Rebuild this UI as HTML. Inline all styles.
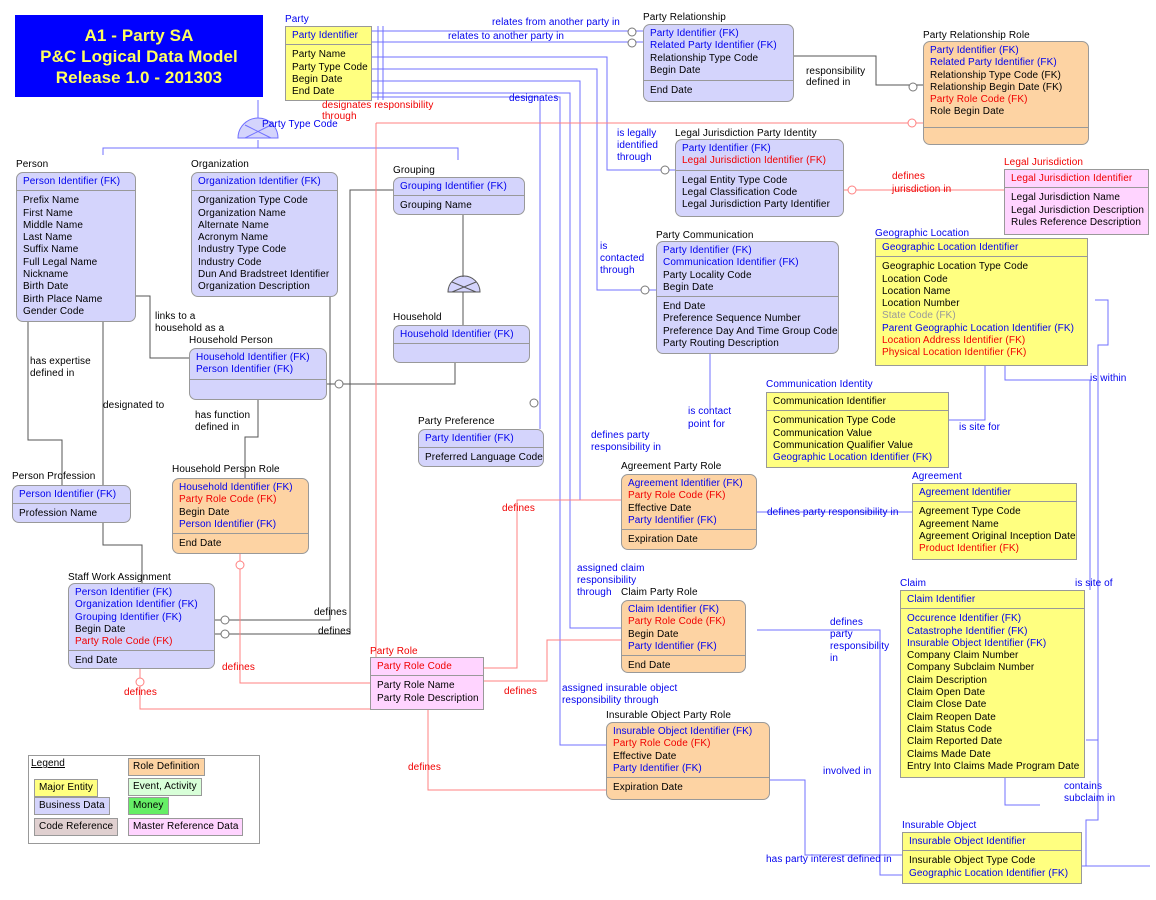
<!DOCTYPE html>
<html><head><meta charset="utf-8"><style>
body{margin:0;background:#fff;width:1156px;height:900px;position:relative;overflow:hidden;font-family:"Liberation Sans",sans-serif;font-size:10px;color:#000;letter-spacing:0.1px}
.e{position:absolute;border:1px solid #999;box-sizing:border-box}
.r{border-radius:7px}
.k{border-bottom:1px solid #999;padding:3px 6px 2px}
.a{padding:4px 6px}
.e div div{line-height:12.3px;white-space:nowrap}
.t{position:absolute;white-space:nowrap;line-height:11px}
.y{background:#ffff80}.l{background:#d4d4fc}.o{background:#fdd3a3}.p{background:#ffd4ff}
.b{color:#0000ee}.d{color:#f00000}
svg{position:absolute;left:0;top:0}
.lg{position:absolute;border:1px solid #999;padding:1px 4px;line-height:14px;white-space:nowrap}
</style></head><body>
<svg width="1156" height="900" fill="none" stroke-width="1">
<g stroke="#7070ff">
<path d="M372 31H643M372 42H643M378 26V100M383 26V100"/>
<path d="M372 57H607V170H675"/>
<path d="M372 69H597V290H656"/>
<path d="M372 81H580V500H621"/>
<path d="M372 93H570V628H621"/>
<path d="M372 97H540V429"/>
<path d="M555 97H560V745H606"/>
<path d="M258 100V123"/>
<path d="M103 155V148H458V160M258 148V140"/>
<path d="M710 354V410"/>
<path d="M985 366V420H949M1005 366V380H1090V590"/>
<path d="M1095 300H1108V345H1098V820H1086V866M1082 866H1150"/>
<path d="M757 630H880V875H902M757 512H912"/>
<path d="M770 780H805V855H902M1005 778V805H1040"/>
<path d="M1086 740H1098"/>
</g>
<path d="M238 138A20 20 0 0 1 278 138Z" fill="#d4d4fc" stroke="#7070ff"/>
<path d="M245 125L271 138M271 125L245 138" stroke="#7070ff"/>
<path d="M448 292A16 16 0 0 1 480 292Z" fill="#d4d4fc" stroke="#555"/>
<path d="M452 282L476 292M476 282L452 292" stroke="#555"/>
<g stroke="#555">
<path d="M794 56H876V85H923"/>
<path d="M463 215V277M463 292V325"/>
<path d="M136 296H150V358H189"/>
<path d="M327 384H455V363"/>
<path d="M258 400V437H245V478"/>
<path d="M28 322V440H62V485"/>
<path d="M103 322V545H142V583"/>
<path d="M330 297V620H215M393 190H350V634H215"/>
</g>
<g stroke="#ff8080">
<path d="M376 123H923M376 123V657"/>
<path d="M757 190H1004"/>
<path d="M240 554V683H370M140 669V709H370"/>
<path d="M484 668H517V500H621M484 681H547V640H621"/>
<path d="M428 710V790H606M428 790H600"/>
</g>
<g stroke="#777" fill="#fff"><circle cx="632" cy="32" r="4"/><circle cx="632" cy="43" r="4"/><circle cx="913" cy="87" r="4"/><circle cx="665" cy="170" r="4"/><circle cx="645" cy="290" r="4"/><circle cx="339" cy="384" r="4"/><circle cx="225" cy="620" r="4"/><circle cx="225" cy="634" r="4"/><circle cx="534" cy="403" r="4"/></g>
<g stroke="#ff8080" fill="#fff"><circle cx="912" cy="123" r="4"/><circle cx="852" cy="190" r="4"/><circle cx="240" cy="565" r="4"/><circle cx="140" cy="682" r="4"/></g>
</svg>
<div class="t" style="left:15px;top:15px;width:248px;height:82px;background:#0000ff;color:#ffff60;font-weight:bold;font-size:17px;line-height:21px;text-align:center;padding-top:10px;box-sizing:border-box">A1 - Party SA<br>P&amp;C Logical Data Model<br>Release 1.0 - 201303</div>

<div class="t b" style="left:285px;top:14px">Party</div>
<div class="e y" style="left:285px;top:26px;width:87px;height:75px"><div class="k b"><div>Party Identifier</div></div><div class="a"><div>Party Name</div><div>Party Type Code</div><div>Begin Date</div><div>End Date</div></div></div>

<div class="t" style="left:643px;top:12px">Party Relationship</div>
<div class="e l r" style="left:643px;top:24px;width:151px;height:78px"><div class="k" style="padding-bottom:3px"><div class="b">Party Identifier (FK)</div><div class="b">Related Party Identifier (FK)</div><div>Relationship Type Code</div><div>Begin Date</div></div><div class="a"><div>End Date</div></div></div>

<div class="t" style="left:923px;top:30px">Party Relationship Role</div>
<div class="e o r" style="left:923px;top:41px;width:166px;height:104px"><div class="k" style="height:80px"><div class="b">Party Identifier (FK)</div><div class="b">Related Party Identifier (FK)</div><div>Relationship Type Code (FK)</div><div>Relationship Begin Date (FK)</div><div class="d">Party Role Code (FK)</div><div>Role Begin Date</div></div></div>

<div class="t" style="left:675px;top:128px">Legal Jurisdiction Party Identity</div>
<div class="e l r" style="left:675px;top:139px;width:169px;height:78px"><div class="k"><div class="b">Party Identifier (FK)</div><div class="d">Legal Jurisdiction Identifier (FK)</div></div><div class="a"><div>Legal Entity Type Code</div><div>Legal Classification Code</div><div>Legal Jurisdiction Party Identifier</div></div></div>

<div class="t d" style="left:1004px;top:157px">Legal Jurisdiction</div>
<div class="e p" style="left:1004px;top:169px;width:145px;height:66px;overflow:hidden"><div class="k d"><div>Legal Jurisdiction Identifier</div></div><div class="a"><div>Legal Jurisdiction Name</div><div>Legal Jurisdiction Description</div><div>Rules Reference Description</div></div></div>

<div class="t b" style="left:875px;top:228px">Geographic Location</div>
<div class="e y" style="left:875px;top:238px;width:213px;height:128px"><div class="k b"><div>Geographic Location Identifier</div></div><div class="a"><div>Geographic Location Type Code</div><div>Location Code</div><div>Location Name</div><div>Location Number</div><div style="color:#999">State Code (FK)</div><div class="b">Parent Geographic Location Identifier (FK)</div><div class="d">Location Address Identifier (FK)</div><div class="d">Physical Location Identifier (FK)</div></div></div>

<div class="t" style="left:656px;top:230px">Party Communication</div>
<div class="e l r" style="left:656px;top:241px;width:183px;height:113px"><div class="k"><div class="b">Party Identifier (FK)</div><div class="b">Communication Identifier (FK)</div><div>Party Locality Code</div><div>Begin Date</div></div><div class="a"><div>End Date</div><div>Preference Sequence Number</div><div>Preference Day And Time Group Code</div><div>Party Routing Description</div></div></div>

<div class="t b" style="left:766px;top:379px">Communication Identity</div>
<div class="e y" style="left:766px;top:392px;width:183px;height:76px"><div class="k"><div>Communication Identifier</div></div><div class="a"><div>Communication Type Code</div><div>Communication Value</div><div>Communication Qualifier Value</div><div class="b">Geographic Location Identifier (FK)</div></div></div>

<div class="t b" style="left:912px;top:471px">Agreement</div>
<div class="e y" style="left:912px;top:483px;width:165px;height:77px;overflow:hidden"><div class="k b"><div>Agreement Identifier</div></div><div class="a"><div>Agreement Type Code</div><div>Agreement Name</div><div>Agreement Original Inception Date</div><div class="d">Product Identifier (FK)</div></div></div>

<div class="t b" style="left:900px;top:578px">Claim</div>
<div class="e y" style="left:900px;top:590px;width:185px;height:188px"><div class="k b"><div>Claim Identifier</div></div><div class="a"><div class="b">Occurence Identifier (FK)</div><div class="b">Catastrophe Identifier (FK)</div><div class="b">Insurable Object Identifier (FK)</div><div>Company Claim Number</div><div>Company Subclaim Number</div><div>Claim Description</div><div>Claim Open Date</div><div>Claim Close Date</div><div>Claim Reopen Date</div><div>Claim Status Code</div><div>Claim Reported Date</div><div>Claims Made Date</div><div>Entry Into Claims Made Program Date</div></div></div>

<div class="t b" style="left:902px;top:820px">Insurable Object</div>
<div class="e y" style="left:902px;top:832px;width:180px;height:52px"><div class="k b"><div>Insurable Object Identifier</div></div><div class="a"><div>Insurable Object Type Code</div><div class="b">Geographic Location Identifier (FK)</div></div></div>

<div class="t" style="left:606px;top:710px">Insurable Object Party Role</div>
<div class="e o r" style="left:606px;top:722px;width:164px;height:78px"><div class="k"><div class="b">Insurable Object Identifier (FK)</div><div class="d">Party Role Code (FK)</div><div>Effective Date</div><div class="b">Party Identifier (FK)</div></div><div class="a"><div>Expiration Date</div></div></div>

<div class="t" style="left:621px;top:587px">Claim Party Role</div>
<div class="e o r" style="left:621px;top:600px;width:125px;height:73px"><div class="k"><div class="b">Claim Identifier (FK)</div><div class="d">Party Role Code (FK)</div><div>Begin Date</div><div class="b">Party Identifier (FK)</div></div><div class="a"><div>End Date</div></div></div>

<div class="t" style="left:621px;top:461px">Agreement Party Role</div>
<div class="e o r" style="left:621px;top:474px;width:136px;height:76px"><div class="k"><div class="b">Agreement Identifier (FK)</div><div class="d">Party Role Code (FK)</div><div>Effective Date</div><div class="b">Party Identifier (FK)</div></div><div class="a"><div>Expiration Date</div></div></div>

<div class="t d" style="left:370px;top:646px">Party Role</div>
<div class="e p" style="left:370px;top:657px;width:114px;height:53px"><div class="k d"><div>Party Role Code</div></div><div class="a"><div>Party Role Name</div><div>Party Role Description</div></div></div>

<div class="t" style="left:68px;top:572px">Staff Work Assignment</div>
<div class="e l r" style="left:68px;top:583px;width:147px;height:86px"><div class="k"><div class="b">Person Identifier (FK)</div><div class="b">Organization Identifier (FK)</div><div class="b">Grouping Identifier (FK)</div><div>Begin Date</div><div class="d">Party Role Code (FK)</div></div><div class="a"><div>End Date</div></div></div>

<div class="t" style="left:172px;top:464px">Household Person Role</div>
<div class="e o r" style="left:172px;top:478px;width:137px;height:76px"><div class="k"><div class="b">Household Identifier (FK)</div><div class="d">Party Role Code (FK)</div><div>Begin Date</div><div class="b">Person Identifier (FK)</div></div><div class="a"><div>End Date</div></div></div>

<div class="t" style="left:12px;top:471px">Person Profession</div>
<div class="e l r" style="left:12px;top:485px;width:119px;height:38px"><div class="k b"><div>Person Identifier (FK)</div></div><div class="a"><div>Profession Name</div></div></div>

<div class="t" style="left:16px;top:159px">Person</div>
<div class="e l r" style="left:16px;top:172px;width:120px;height:150px"><div class="k b"><div>Person Identifier (FK)</div></div><div class="a"><div>Prefix Name</div><div>First Name</div><div>Middle Name</div><div>Last Name</div><div>Suffix Name</div><div>Full Legal Name</div><div>Nickname</div><div>Birth Date</div><div>Birth Place Name</div><div>Gender Code</div></div></div>

<div class="t" style="left:191px;top:159px">Organization</div>
<div class="e l r" style="left:191px;top:172px;width:147px;height:125px"><div class="k b"><div>Organization Identifier (FK)</div></div><div class="a"><div>Organization Type Code</div><div>Organization Name</div><div>Alternate Name</div><div>Acronym Name</div><div>Industry Type Code</div><div>Industry Code</div><div>Dun And Bradstreet Identifier</div><div>Organization Description</div></div></div>

<div class="t" style="left:393px;top:165px">Grouping</div>
<div class="e l r" style="left:393px;top:177px;width:132px;height:38px"><div class="k b"><div>Grouping Identifier (FK)</div></div><div class="a"><div>Grouping Name</div></div></div>

<div class="t" style="left:393px;top:312px">Household</div>
<div class="e l r" style="left:393px;top:325px;width:137px;height:38px"><div class="k b"><div>Household Identifier (FK)</div></div></div>

<div class="t" style="left:189px;top:335px">Household Person</div>
<div class="e l r" style="left:189px;top:348px;width:138px;height:52px"><div class="k b"><div>Household Identifier (FK)</div><div>Person Identifier (FK)</div></div></div>

<div class="t" style="left:418px;top:416px">Party Preference</div>
<div class="e l r" style="left:418px;top:429px;width:126px;height:38px;overflow:hidden"><div class="k b"><div>Party Identifier (FK)</div></div><div class="a"><div>Preferred Language Code</div></div></div>

<div style="position:absolute;left:28px;top:755px;width:230px;height:87px;border:1px solid #999"></div>
<div class="t" style="left:31px;top:758px;text-decoration:underline">Legend</div>
<div class="lg" style="left:34px;top:779px;background:#ffff80">Major Entity</div>
<div class="lg" style="left:34px;top:797px;background:#d4d4fc">Business Data</div>
<div class="lg" style="left:34px;top:818px;background:#e0d0d0">Code Reference</div>
<div class="lg" style="left:128px;top:758px;background:#fdd3a3">Role Definition</div>
<div class="lg" style="left:128px;top:778px;background:#d8ffd8">Event, Activity</div>
<div class="lg" style="left:128px;top:797px;background:#66ee66">Money</div>
<div class="lg" style="left:128px;top:818px;background:#ffd4ff">Master Reference Data</div>

<div class="t b" style="left:492px;top:17px">relates from another party in</div>
<div class="t b" style="left:448px;top:31px">relates to another party in</div>
<div class="t d" style="left:322px;top:100px">designates responsibility<br>through</div>
<div class="t b" style="left:262px;top:119px">Party Type Code</div>
<div class="t b" style="left:509px;top:93px">designates</div>
<div class="t" style="left:806px;top:66px">responsibility<br>defined in</div>
<div class="t b" style="left:617px;top:128px;line-height:12px">is legally<br>identified<br>through</div>
<div class="t d" style="left:892px;top:170px;line-height:13px">defines<br>jurisdiction in</div>
<div class="t b" style="left:600px;top:241px;line-height:12px">is<br>contacted<br>through</div>
<div class="t" style="left:155px;top:311px;line-height:12px">links to a<br>household as a</div>
<div class="t" style="left:30px;top:356px;line-height:12px">has expertise<br>defined in</div>
<div class="t" style="left:103px;top:400px">designated to</div>
<div class="t" style="left:195px;top:410px;line-height:12px">has function<br>defined in</div>
<div class="t b" style="left:688px;top:405px;line-height:13px">is contact<br>point for</div>
<div class="t b" style="left:959px;top:422px">is site for</div>
<div class="t b" style="left:1090px;top:373px">is within</div>
<div class="t b" style="left:591px;top:430px;line-height:12px">defines party<br>responsibility in</div>
<div class="t d" style="left:502px;top:503px">defines</div>
<div class="t b" style="left:767px;top:507px">defines party responsibility in</div>
<div class="t b" style="left:577px;top:563px;line-height:12px">assigned claim<br>responsibility<br>through</div>
<div class="t b" style="left:1075px;top:578px">is site of</div>
<div class="t b" style="left:830px;top:617px;line-height:12px">defines<br>party<br>responsibility<br>in</div>
<div class="t" style="left:314px;top:607px">defines</div>
<div class="t" style="left:318px;top:626px">defines</div>
<div class="t d" style="left:222px;top:662px">defines</div>
<div class="t d" style="left:124px;top:687px">defines</div>
<div class="t d" style="left:504px;top:686px">defines</div>
<div class="t b" style="left:562px;top:683px;line-height:12px">assigned insurable object<br>responsibility through</div>
<div class="t d" style="left:408px;top:762px">defines</div>
<div class="t b" style="left:823px;top:766px">involved in</div>
<div class="t b" style="left:1064px;top:781px;line-height:12px">contains<br>subclaim in</div>
<div class="t b" style="left:766px;top:854px">has party interest defined in</div>
</body></html>
